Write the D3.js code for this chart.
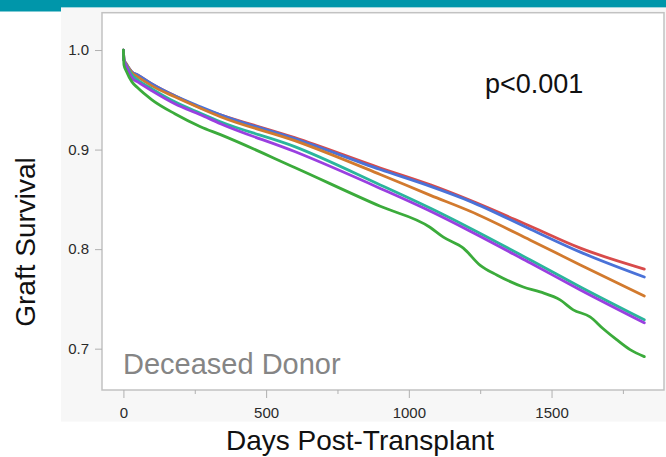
<!DOCTYPE html>
<html>
<head>
<meta charset="utf-8">
<script src="https://cdn.jsdelivr.net/npm/d3@7"></script>
<style>
  body { margin: 0; background: #ffffff; }
  text { font-family: "Liberation Sans", Arial, sans-serif; }
</style>
</head>
<body>
<div id="chart"></div>
<script>
// days post-transplant where the curves were read
const days = [0, 2, 10, 30, 50, 100, 180, 270, 340, 600, 900, 1076, 1215, 1426, 1601, 1825];
// the green group is bumpier, so it was read at more points
const greenDays = [0, 2, 10, 30, 50, 100, 180, 270, 340, 600, 900, 1074, 1121, 1191, 1249, 1308, 1401, 1460, 1530, 1576, 1635, 1681, 1728, 1775, 1825];

const seriesColors = ["#d84b4b", "#4a72d8", "#d27a2e", "#2bb59c", "#9a3fe0", "#3bab3b"];

const redSurv    = [1.0, 0.990, 0.986, 0.978, 0.975, 0.966, 0.954, 0.942, 0.935, 0.912, 0.8815, 0.8645, 0.849, 0.823, 0.801, 0.780];
const blueSurv   = [1.0, 0.990, 0.986, 0.978, 0.975, 0.966, 0.954, 0.943, 0.935, 0.911, 0.880, 0.863, 0.848, 0.820, 0.797, 0.772];
const orangeSurv = [1.0, 0.990, 0.986, 0.977, 0.973, 0.964, 0.953, 0.9415, 0.933, 0.909, 0.875, 0.854, 0.838, 0.809, 0.784, 0.753];
const tealSurv   = [1.0, 0.990, 0.985, 0.975, 0.970, 0.961, 0.948, 0.9365, 0.928, 0.903, 0.8645, 0.841, 0.821, 0.789, 0.762, 0.729];
const purpleSurv = [1.0, 0.990, 0.984, 0.972, 0.968, 0.959, 0.946, 0.935, 0.926, 0.898, 0.861, 0.838, 0.818, 0.786, 0.759, 0.726];
const greenSurv  = [1.0, 0.985, 0.979, 0.968, 0.962, 0.950, 0.936, 0.923, 0.915, 0.882, 0.843, 0.822, 0.812, 0.801, 0.784, 0.774, 0.762, 0.757, 0.749, 0.739, 0.732, 0.720, 0.709, 0.699, 0.692];

const yTicks = [0.7, 0.8, 0.9, 1.0];
const xMajorTicks = [0, 500, 1000, 1500];
const xMinorTicks = [250, 750, 1250, 1750];

const ctx = {
    w: 666,
    h: 457,
    left: 102,
    right: 664,
    top: 12.7,
    bottom: 390
};

function createViz() {
    var svg = d3.select("#chart").append("svg")
        .attr("width", ctx.w).attr("height", ctx.h);

    // slide decoration: teal band and grey panel
    svg.append("rect").attr("x", 0).attr("y", 0).attr("width", ctx.w).attr("height", 7.6).attr("fill", "#0096aa");
    svg.append("rect").attr("x", 0).attr("y", 0).attr("width", 61).attr("height", 11.5).attr("fill", "#0096aa");
    svg.append("rect").attr("x", 61).attr("y", 7.6).attr("width", ctx.w - 61).attr("height", 414).attr("fill", "#f7f7f7");

    // plot frame
    svg.append("rect")
        .attr("x", ctx.left).attr("y", ctx.top)
        .attr("width", ctx.right - ctx.left).attr("height", ctx.bottom - ctx.top)
        .attr("fill", "#ffffff").attr("stroke", "#c2c2c2").attr("stroke-width", 1.5);

    var x = d3.scaleLinear().domain([-75, 1894]).range([ctx.left, ctx.right]);
    var y = d3.scaleLinear().domain([0.6585, 1.0375]).range([ctx.bottom, ctx.top]);

    // y axis
    var yAxis = svg.append("g")
        .attr("transform", "translate(" + ctx.left + ",0)")
        .call(d3.axisLeft(y).tickValues(yTicks).tickFormat(d3.format(".1f")).tickSize(7).tickPadding(6));
    yAxis.select(".domain").remove();
    yAxis.selectAll("line").attr("stroke", "#b0b0b0");
    yAxis.selectAll("text").style("font-size", "15px").attr("fill", "#2a2a2a");

    // x axis, major + minor ticks
    var xAxis = svg.append("g")
        .attr("transform", "translate(0," + ctx.bottom + ")")
        .call(d3.axisBottom(x).tickValues(xMajorTicks).tickFormat(d3.format("d")).tickSize(8).tickPadding(9));
    xAxis.select(".domain").remove();
    xAxis.selectAll("line").attr("stroke", "#b0b0b0");
    xAxis.selectAll("text").style("font-size", "15px").attr("fill", "#2a2a2a");

    var xMinor = svg.append("g")
        .attr("transform", "translate(0," + ctx.bottom + ")")
        .call(d3.axisBottom(x).tickValues(xMinorTicks).tickSize(4).tickFormat(""));
    xMinor.select(".domain").remove();
    xMinor.selectAll("line").attr("stroke", "#b0b0b0");

    // survival curves
    var allSeries = [
        {t: days, s: redSurv},
        {t: days, s: blueSurv},
        {t: days, s: orangeSurv},
        {t: days, s: tealSurv},
        {t: days, s: purpleSurv},
        {t: greenDays, s: greenSurv}
    ];

    svg.append("g").selectAll("path")
        .data(allSeries)
        .enter()
        .append("path")
        .attr("d", function(d) {
            return d3.line()
                .x(function(v, i) { return x(d.t[i]); })
                .y(function(v) { return y(v); })
                .curve(d3.curveMonotoneX)(d.s);
        })
        .attr("fill", "none")
        .attr("stroke", function(d, i) { return seriesColors[i]; })
        .attr("stroke-width", 2.8)
        .attr("stroke-linejoin", "round")
        .attr("stroke-linecap", "round");

    // annotations
    svg.append("text").attr("x", 485).attr("y", 92.7)
        .text("p<0.001").style("font-size", "27px").attr("fill", "#111");
    svg.append("text").attr("x", 123).attr("y", 374)
        .text("Deceased Donor").style("font-size", "29px").attr("fill", "#858585");

    // axis titles
    svg.append("text").attr("x", 360).attr("y", 450)
        .attr("text-anchor", "middle")
        .text("Days Post-Transplant").style("font-size", "28px").attr("fill", "#111");
    svg.append("text")
        .attr("transform", "translate(35,242) rotate(-90)")
        .attr("text-anchor", "middle")
        .text("Graft Survival").style("font-size", "28px").attr("fill", "#111");
}

createViz();
</script>
</body>
</html>
